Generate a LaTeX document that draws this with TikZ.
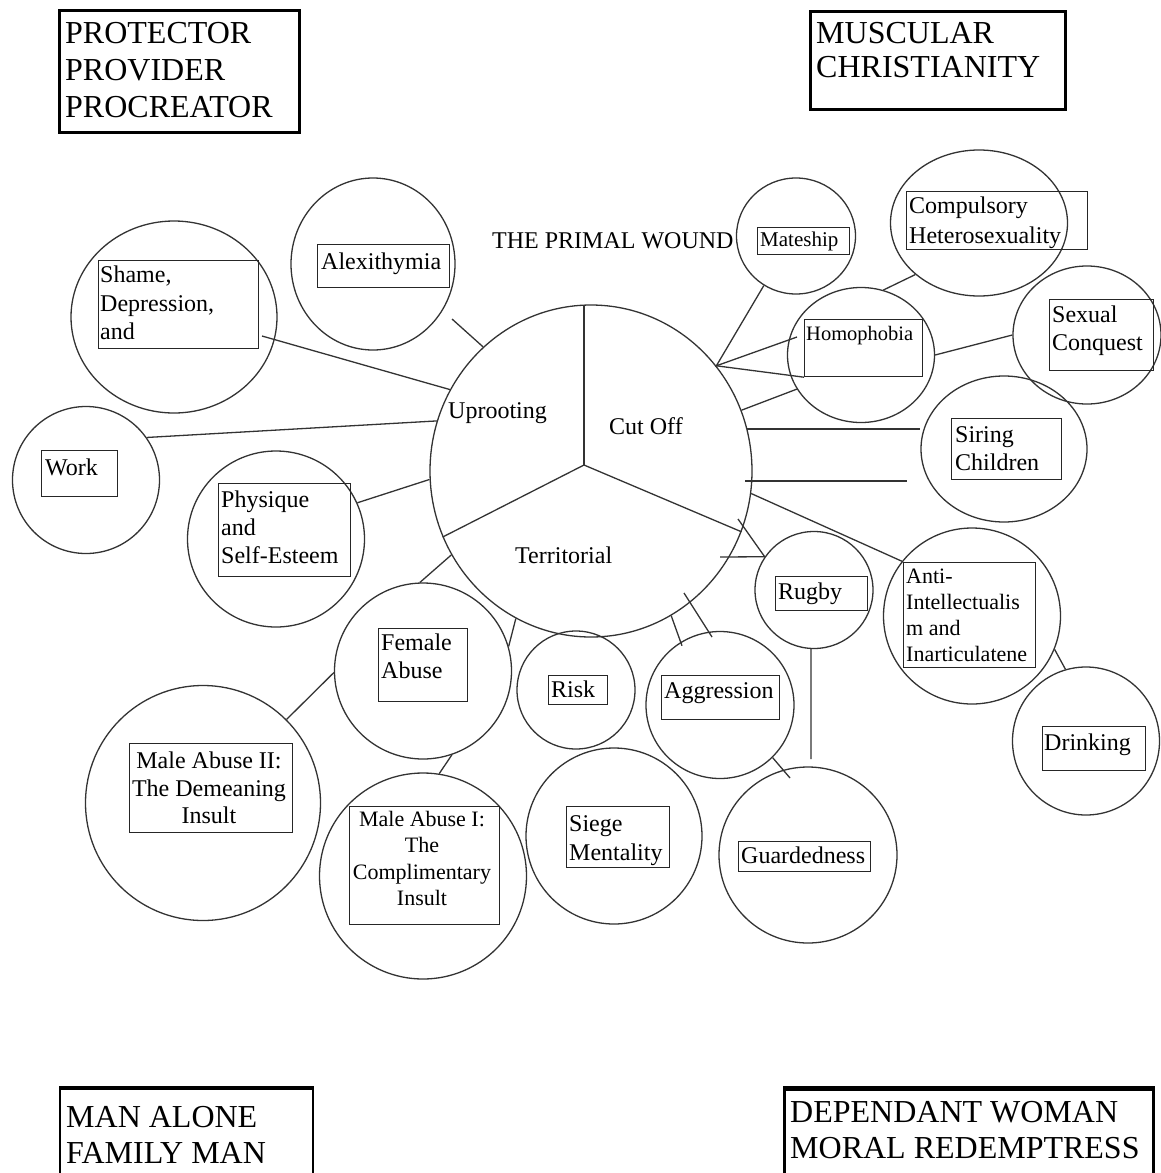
\documentclass[tikz,border=0pt]{standalone}
\usepackage{fontspec}
\setmainfont{Liberation Serif}
\usetikzlibrary{shapes.geometric,calc}
\newcommand\mkring[5]{\node[ring, minimum width=#4, minimum height=#5] (#1) at (#2,#3) {};}
\newcommand\mktag[5]{\node[tag, minimum width={#4-#2}, minimum height={#5-#3}] (#1) at (#2,#3) {};}
\begin{document}
\begin{tikzpicture}[x=1pt,y=-1pt,
  ring/.style={draw=black!80, ellipse, inner sep=0pt, line width=1.3pt},
  tag/.style={draw=black!85, rectangle, inner sep=0pt, line width=1.2pt, anchor=north west},
  txt/.style={inner sep=0pt, anchor=north west, align=left, font=\fontsize{24}{28.5}\selectfont},
  ctxt/.style={inner sep=0pt, anchor=north, align=center, font=\fontsize{24}{27.5}\selectfont},
  big/.style={inner sep=0pt, anchor=north west, align=left, font=\fontsize{32}{37}\selectfont},
  frame/.style={draw=black, rectangle, inner sep=0pt, line width=3pt, anchor=north west},
  link/.style={draw=black!80, line width=1.3pt},
]
\useasboundingbox (0,0) rectangle (1161,1173);
\fill[white] (0,0) rectangle (1161,1173);
\clip (0,0) rectangle (1161,1173);

% ---------- corner frames ----------
\node[frame, minimum width=240, minimum height=122] (prot) at (58,9) {};
\node[big] (prott) at (65,22) {PROTECTOR\\PROVIDER\\PROCREATOR};
\node[frame, minimum width=255, minimum height=98] (musc) at (809,10) {};
\node[big, font=\fontsize{32}{34}\selectfont] (musct) at (816,22) {MUSCULAR\\CHRISTIANITY};
\node[frame, line width=1.5pt, minimum width=253, minimum height=110] (man) at (59,1088) {};
\draw[line width=4.5pt] (man.north west) -- (man.north east);
\node[big, font=\fontsize{32}{36}\selectfont] (mant) at (66,1106) {MAN ALONE\\FAMILY MAN};
\node[frame, minimum width=369, minimum height=110] (dep) at (783,1088) {};
\draw[line width=4.5pt] (dep.north west) -- (dep.north east);
\node[big, font=\fontsize{32}{36}\selectfont] (dept) at (790,1101) {DEPENDANT WOMAN\\MORAL REDEMPTRESS};

% ---------- central wound ----------
\mkring{wound}{591}{471}{322}{332}
\coordinate (wc) at (584,465);
\coordinate (wtop) at (584,305);
\draw[link] (wc) -- (wtop);
\draw[link] (wc) -- (wound.204.3);
\draw[link] (wc) -- (wound.-22.5);
\node[txt] (upr) at (448,402) {Uprooting};
\node[txt] (cut) at (609,417) {Cut Off};
\node[txt] (ter) at (515,547) {Territorial};
\node[txt, font=\fontsize{24}{28}\selectfont] (title) at (492,232) {THE PRIMAL WOUND};

% ---------- circles ----------
\mkring{alex}{373}{264}{164}{172}
\mkring{shame}{174}{317}{206}{192}
\mkring{work}{86}{480}{147}{147}
\mkring{phys}{276}{539}{177}{176}
\mkring{female}{423}{671}{177}{176}
\mkring{ma2}{203}{803}{235}{235}
\mkring{ma1}{423}{876}{207}{206}
\mkring{risk}{576}{690}{118}{118}
\mkring{aggr}{720}{705}{148}{147}
\mkring{siege}{614}{836}{176}{176}
\mkring{guard}{808}{855}{178}{176}
\mkring{rugby}{814}{590}{118}{117}
\mkring{anti}{972}{616}{177}{176}
\mkring{drink}{1086}{741}{147}{148}
\mkring{siring}{1004}{449}{166}{146}
\mkring{homo}{861}{355}{147}{135}
\mkring{mate}{796}{236}{119}{116}
\mkring{comp}{979}{223}{177}{146}
\mkring{sex}{1087}{335}{148}{138}

% ---------- label boxes ----------
\mktag{alexb}{317}{244}{449}{287}
\node[txt] (alext) at (321,253) {Alexithymia};
\mktag{shameb}{98}{260}{258}{348}
\node[txt] (shamet) at (100,266) {Shame,\\Depression,\\and};
\mktag{workb}{41}{450}{117}{496}
\node[txt] (workt) at (45,459) {Work};
\mktag{physb}{218}{483}{350}{576}
\node[txt, font=\fontsize{24}{28}\selectfont] (physt) at (221,491) {Physique\\and\\Self-Esteem};
\mktag{femaleb}{378}{628}{467}{701}
\node[txt, font=\fontsize{24}{28}\selectfont] (femalet) at (381,634) {Female\\Abuse};
\mktag{ma2b}{129}{743}{292}{832}
\node[ctxt] (ma2t) at (209,752) {Male Abuse II:\\The Demeaning\\Insult};
\mktag{ma1b}{349}{806}{499}{924}
\node[ctxt, font=\fontsize{22}{26.5}\selectfont] (ma1t) at (422,811) {Male Abuse I:\\The\\Complimentary\\Insult};
\mktag{riskb}{548}{675}{607}{704}
\node[txt] (riskt) at (551,681) {Risk};
\mktag{aggrb}{661}{675}{779}{719}
\node[txt] (aggrt) at (664,682) {Aggression};
\mktag{siegeb}{566}{806}{669}{867}
\node[txt, font=\fontsize{24}{29.5}\selectfont] (sieget) at (569,815) {Siege\\Mentality};
\mktag{guardb}{738}{841}{870}{871}
\node[txt] (guardt) at (741,847) {Guardedness};
\mktag{rugbyb}{775}{576}{867}{610}
\node[txt] (rugbyt) at (778,583) {Rugby};
\mktag{antib}{903}{562}{1035}{667}
\node[txt, font=\fontsize{22}{26}\selectfont] (antit) at (906,569) {Anti-\\Intellectualis\\m and\\Inarticulatene};
\mktag{drinkb}{1042}{726}{1145}{770}
\node[txt] (drinkt) at (1044,734) {Drinking};
\mktag{siringb}{951}{418}{1061}{479}
\node[txt, font=\fontsize{24}{28}\selectfont] (siringt) at (955,426) {Siring\\Children};
\mktag{homob}{804}{319}{922}{376}
\node[txt, font=\fontsize{20.5}{24}\selectfont] (homot) at (806,326) {Homophobia};
\mktag{mateb}{757}{227}{849}{254}
\node[txt, font=\fontsize{21}{25}\selectfont] (matet) at (760,232) {Mateship};
\mktag{compb}{906}{191}{1087}{249}
\node[txt, font=\fontsize{24}{29.5}\selectfont] (compt) at (909,197) {Compulsory\\Heterosexuality};
\mktag{sexb}{1049}{299}{1153}{370}
\node[txt, font=\fontsize{24}{28}\selectfont] (sext) at (1052,306) {Sexual\\Conquest};

% ---------- free ends ----------
\coordinate (a1) at (452,319);
\coordinate (s1) at (262,336);
\coordinate (ag1) at (684,593);
\coordinate (ag2) at (712,637);
\coordinate (gd1) at (790,778);
\coordinate (g2) at (811,759);
\coordinate (r1) at (738,519);
\coordinate (r2) at (720,557);
\coordinate (sr1) at (745,481);
\coordinate (sr2) at (907,481);
\coordinate (h1) at (797,337);

% ---------- connectors ----------
\draw[link] (a1) -- (wound.131.8);
\draw[link] (s1) -- (wound.150.4);
\draw[link] (work.35.6) -- (wound.162.5);
\draw[link] (phys.24) -- (wound.183.8);
\draw[link] (female.92) -- (wound.211.7);
\draw[link] (female.16.7) -- (wound.243.3);
\draw[link] (ma2.45) -- (female.181.3);
\draw[link] (ma1.81.6) -- (female.-71.2);
\draw[link, shorten >=-4pt] (wound.299) -- (aggr.122.5);
\draw[link] (ag1) -- (ag2);
\draw[link] (aggr.-45) -- (gd1);
\draw[link] (rugby.-93) -- (g2);
\draw[link] (r1) -- (rugby.146.6);
\draw[link] (r2) -- (rugby.146.6);
\draw[link] (wound.-8.3) -- (anti.142);
\draw[link] (anti.-22) -- (drink.106.3);
\draw[link] (wound.15.3) -- (wound.15.3 -| siring.west);
\draw[link] (sr1) -- (sr2);
\draw[link] (wound.22.6) -- (homo.208);
\draw[link] (mate.-123) -- (wound.40.6) -- (h1);
\draw[link] (wound.40.6) -- (homob.south west);
\draw[link] (homo.71) -- (comp.-141);
\draw[link] (homo.east) -- (sex.west);
\end{tikzpicture}
\end{document}
